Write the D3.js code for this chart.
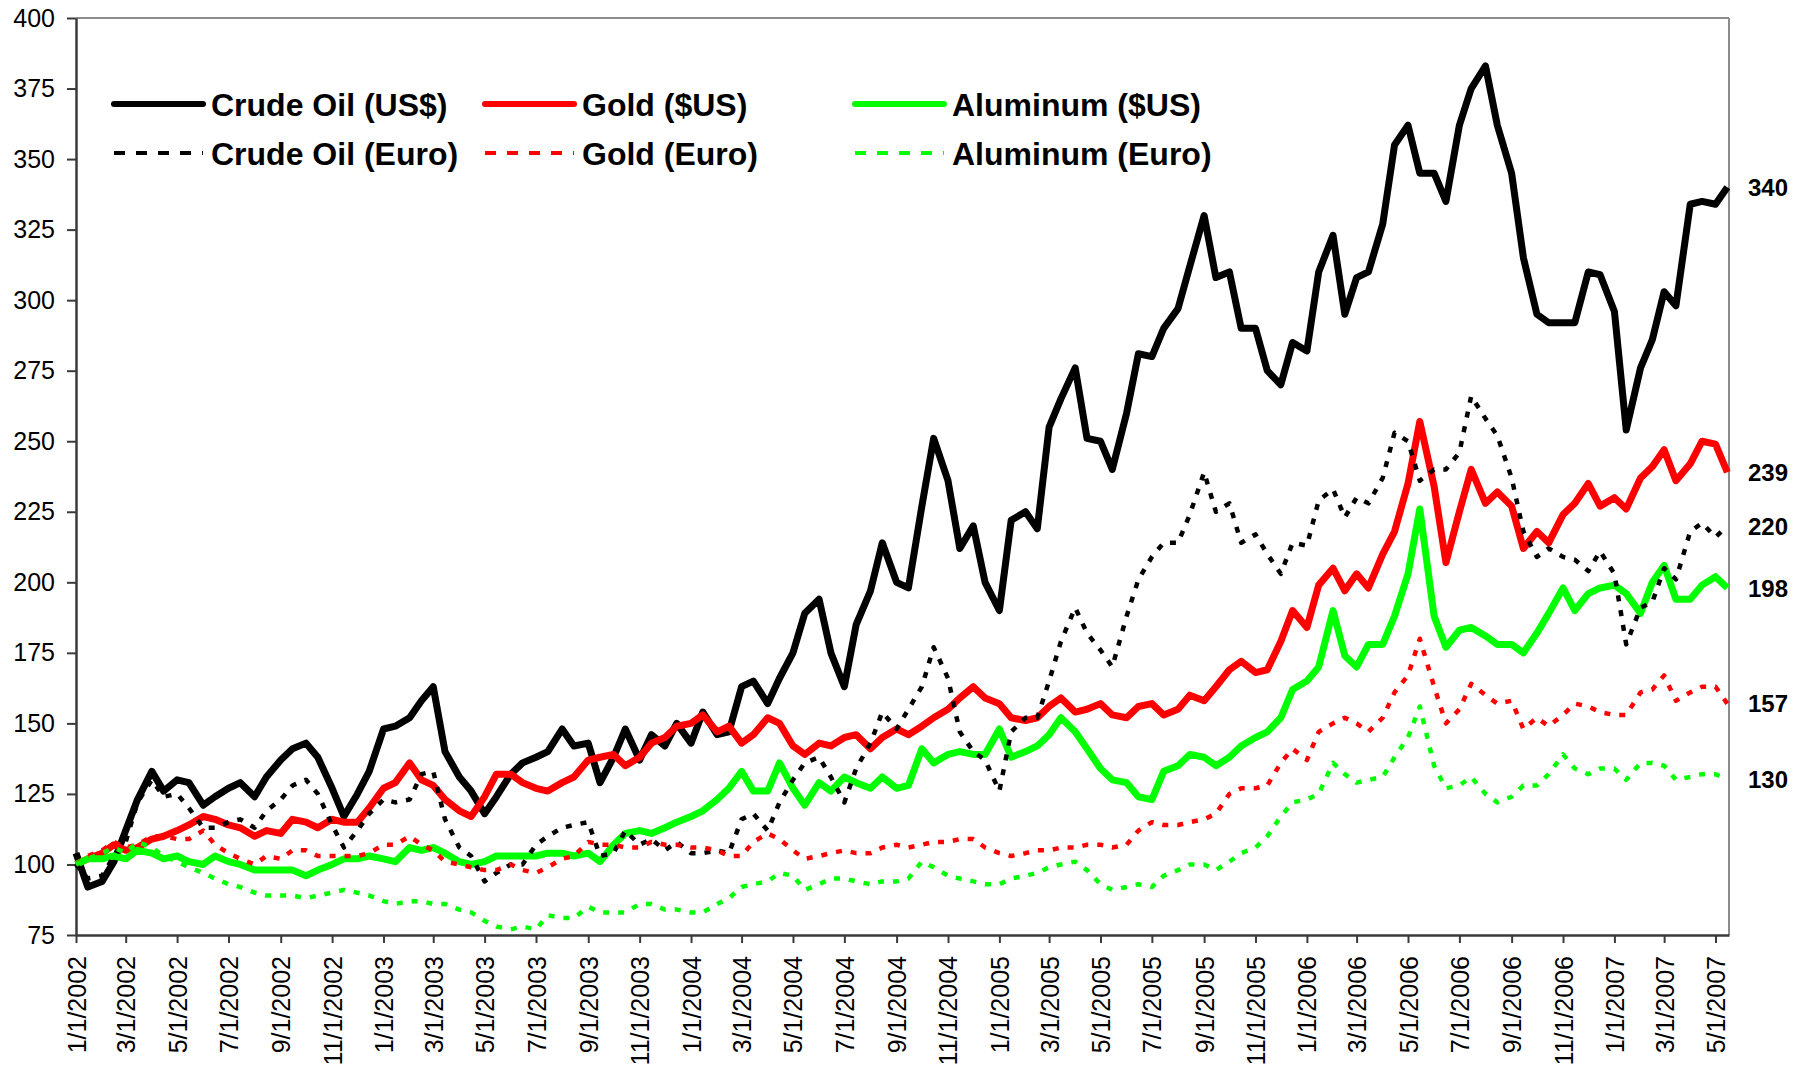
<!DOCTYPE html>
<html>
<head>
<meta charset="utf-8">
<script src="https://cdn.jsdelivr.net/npm/d3@7"></script>
<style>
  body { margin: 0; background: #fff; }
  svg text { font-family: "Liberation Sans", Arial, sans-serif; }
</style>
</head>
<body>
<svg id="chart" width="1805" height="1069"></svg>
<script>
// semi-monthly samples (1st and 15th), 1/1/2002 .. 5/15/2007
const lastDate = new Date(2007, 4, 15);
const dates = [];
for (let yr = 2002; yr <= 2007; yr++)
  for (let mo = 0; mo < 12; mo++)
    for (const d of [1, 15]) {
      const t = new Date(yr, mo, d);
      if (t <= lastDate) dates.push(t);
    }

// index values, 1/1/2002 = 100
const crudeUsd = [
  104, 92, 94, 101, 112, 123, 133, 126, 130, 129, 121, 124, 127, 129, 124, 131, 137, 141, 143, 138, 127, 117,
  125, 133, 148, 149, 152, 158, 163, 140, 131, 126, 118, 124, 132, 136, 138, 140, 148, 142, 143, 129, 138, 148,
  137, 146, 142, 150, 143, 154, 146, 147, 163, 165, 157, 166, 175, 189, 194, 175, 163, 185, 197, 214, 200,
  198, 227, 251, 236, 212, 220, 200, 190, 222, 225, 219, 255, 265, 276, 251, 250, 240, 260, 281, 280, 290, 297,
  312, 330, 308, 310, 290, 290, 275, 270, 285, 282, 310, 323, 295, 308, 310, 327, 355, 362, 345, 345, 335,
  362, 375, 383, 362, 345, 315, 295, 292, 292, 292, 310, 309, 296, 254, 276, 286, 303, 298, 334, 335, 334, 340
];
const goldUsd = [
  100, 102, 104, 107, 105, 106, 109, 110, 112, 114, 117, 116, 114, 113, 110, 112, 111, 116, 115, 113, 116, 115,
  115, 120, 127, 129, 136, 130, 128, 123, 119, 117, 124, 132, 132, 129, 127, 126, 129, 131, 137, 138, 139, 135,
  138, 143, 145, 149, 150, 153, 147, 149, 143, 146, 152, 150, 142, 139, 143, 142, 145, 146, 141, 145, 148,
  146, 149, 152, 155, 159, 163, 159, 157, 152, 151, 152, 156, 159, 154, 155, 157, 153, 152, 156, 157, 153, 155,
  160, 158, 163, 169, 172, 168, 169, 179, 190, 184, 199, 205, 197, 203, 198, 210, 218, 235, 257, 234, 207,
  225, 240, 228, 232, 227, 212, 218, 214, 224, 228, 235, 227, 230, 226, 237, 241, 247, 236, 242, 250, 249, 239
];
const aluminumUsd = [
  100, 102, 102, 103, 102, 105, 104, 102, 103, 101, 100, 103, 101, 100, 98, 98, 98, 98, 96, 98, 100, 102,
  102, 103, 102, 101, 106, 105, 106, 104, 101, 100, 101, 103, 103, 103, 103, 104, 104, 103, 104, 101, 107, 111,
  112, 111, 113, 115, 117, 119, 123, 127, 133, 126, 126, 136, 127, 121, 129, 126, 131, 129, 127, 131, 127,
  128, 141, 136, 139, 140, 139, 139, 148, 138, 140, 142, 146, 152, 147, 141, 134, 130, 129, 124, 123, 133, 135,
  139, 138, 135, 138, 142, 145, 147, 152, 162, 165, 170, 190, 174, 170, 178, 178, 188, 203, 226, 188, 177,
  183, 184, 181, 178, 178, 175, 182, 189, 198, 190, 196, 198, 199, 196, 189, 200, 206, 194, 194, 199, 202, 198
];
const crudeEuro = [
  100, 95, 96, 103, 108, 122, 130, 124, 125, 120, 113, 113, 115, 116, 113, 119, 123, 128, 130, 125, 114, 106,
  112, 118, 123, 122, 123, 132, 133, 116, 106, 103, 94, 97, 100, 100, 107, 110, 113, 114, 115, 103, 104, 112,
  107, 109, 105, 108, 104, 104, 105, 104, 116, 118, 112, 122, 130, 136, 138, 131, 122, 134, 143, 154, 148,
  155, 163, 177, 166, 147, 140, 137, 126, 147, 152, 152, 165, 179, 191, 182, 176, 170, 188, 201, 209, 214, 214,
  224, 239, 225, 228, 214, 217, 210, 203, 214, 213, 229, 233, 223, 230, 228, 237, 253, 250, 236, 240, 240,
  246, 266, 258, 252, 237, 218, 209, 212, 209, 208, 204, 211, 203, 178, 191, 193, 205, 201, 218, 221, 216, 220
];
const goldEuro = [
  100, 103, 105, 108, 106, 107, 110, 110, 109, 109, 112, 107, 104, 102, 100, 103, 102, 105, 105, 103, 103, 103,
  103, 104, 107, 107, 110, 107, 105, 101, 100, 99, 98, 98, 100, 98, 97, 99, 102, 103, 108, 107, 107, 106,
  106, 108, 107, 107, 106, 106, 105, 103, 103, 108, 111, 109, 105, 102, 103, 104, 105, 104, 104, 106, 107,
  106, 107, 108, 108, 109, 109, 106, 104, 103, 104, 105, 105, 106, 106, 107, 107, 106, 107, 112, 115, 114, 114,
  115, 116, 118, 125, 127, 127, 128, 136, 141, 137, 147, 150, 152, 150, 147, 152, 161, 167, 180, 163, 150,
  155, 164, 160, 157, 158, 148, 152, 149, 153, 157, 156, 154, 153, 153, 161, 162, 167, 158, 161, 163, 163, 157
];
const aluminumEuro = [
  100, 102, 104, 106, 104, 108, 106, 103, 101, 99, 97, 95, 93, 92, 90, 89, 89, 89, 88, 89, 90, 91,
  90, 89, 87, 86, 87, 87, 86, 86, 84, 83, 80, 78, 77, 78, 77, 82, 81, 81, 85, 83, 83, 83,
  86, 86, 84, 84, 83, 83, 86, 88, 92, 93, 94, 97, 96, 91, 93, 95, 95, 94, 93, 94, 94,
  95, 101, 99, 96, 95, 94, 93, 93, 95, 96, 97, 99, 100, 101, 98, 93, 91, 92, 93, 92, 96, 98,
  100, 100, 98, 101, 104, 106, 110, 117, 122, 123, 125, 136, 132, 129, 130, 131, 138, 145, 156, 135, 127,
  128, 131, 125, 122, 124, 128, 128, 132, 139, 134, 132, 134, 134, 130, 136, 136, 135, 130, 131, 132, 132, 130
];

const seriesNames = ["Crude Oil (US$)", "Gold ($US)", "Aluminum ($US)",
                     "Crude Oil (Euro)", "Gold (Euro)", "Aluminum (Euro)"];
const seriesColors = ["#000000", "#ff0000", "#00ff00", "#000000", "#ff0000", "#00ff00"];
const seriesValues = [crudeUsd, goldUsd, aluminumUsd, crudeEuro, goldEuro, aluminumEuro];
const endLabels = [340, 239, 220, 198, 157, 130];
const yTicks = [75, 100, 125, 150, 175, 200, 225, 250, 275, 300, 325, 350, 375, 400];

const svg = d3.select("#chart");
const plotL = 76, plotR = 1729, plotT = 18, plotB = 935;

const x = d3.scaleTime()
  .domain([new Date(2002, 0, 1), new Date(2007, 4, 17)])
  .range([plotL, plotR]);
const y = d3.scaleLinear().domain([75, 400]).range([plotB, plotT]);

const tickDates = d3.timeMonth.every(2).range(new Date(2002, 0, 1), new Date(2007, 4, 2));
const fmt = (d) => `${d.getMonth() + 1}/${d.getDate()}/${d.getFullYear()}`;

// frame
svg.append("line").attr("x1", plotL).attr("x2", plotR).attr("y1", plotT).attr("y2", plotT)
  .attr("stroke", "#8c8c8c").attr("stroke-width", 2);
svg.append("line").attr("x1", plotR).attr("x2", plotR).attr("y1", plotT).attr("y2", plotB)
  .attr("stroke", "#8c8c8c").attr("stroke-width", 2);

// axes
const yAxis = svg.append("g")
  .attr("transform", `translate(${plotL},0)`)
  .call(d3.axisLeft(y).tickValues(yTicks).tickSizeInner(9).tickSizeOuter(0).tickPadding(12));
const xAxis = svg.append("g")
  .attr("transform", `translate(0,${plotB})`)
  .call(d3.axisBottom(x).tickValues(tickDates).tickFormat(fmt).tickSizeInner(8).tickSizeOuter(0));

[yAxis, xAxis].forEach((g) => {
  g.select(".domain").attr("stroke", "#3a3a3a").attr("stroke-width", 2.5);
  g.selectAll(".tick line").attr("stroke", "#3a3a3a").attr("stroke-width", 2);
  g.selectAll("text").attr("fill", "#000").style("font-size", "25px")
    .style("font-family", '"Liberation Sans", Arial, sans-serif');
});
xAxis.selectAll(".tick text")
  .attr("transform", "rotate(-90)")
  .attr("text-anchor", "end")
  .attr("x", -21)
  .attr("y", 0)
  .attr("dy", "0.36em");

// series
const line = d3.line()
  .x((d, i) => x(dates[i]))
  .y((d) => y(d))
  .curve(d3.curveLinear);

seriesValues.forEach((vals, s) => {
  const dashed = s >= 3;
  svg.append("path")
    .datum(vals)
    .attr("d", line)
    .attr("fill", "none")
    .attr("stroke", seriesColors[s])
    .attr("stroke-width", dashed ? 4.5 : 7)
    .attr("stroke-linejoin", "round")
    .attr("stroke-dasharray", dashed ? "6,9" : null);
});

// end-value labels
endLabels.forEach((v) => {
  svg.append("text")
    .attr("x", 1748)
    .attr("y", y(v))
    .attr("dy", "0.36em")
    .style("font-size", "24px")
    .style("font-weight", "bold")
    .text(v);
});

// legend
const legCols = [114, 485, 855];
const legRows = [104, 153];
seriesNames.forEach((name, s) => {
  const cx = legCols[s % 3], cy = legRows[Math.floor(s / 3)];
  const dashed = s >= 3;
  svg.append("line")
    .attr("x1", cx).attr("x2", cx + 89).attr("y1", cy).attr("y2", cy)
    .attr("stroke", seriesColors[s])
    .attr("stroke-width", dashed ? 4 : 6)
    .attr("stroke-linecap", dashed ? "butt" : "round")
    .attr("stroke-dasharray", dashed ? "11,11" : null);
  svg.append("text")
    .attr("x", cx + 97)
    .attr("y", cy)
    .attr("dy", "0.36em")
    .style("font-size", "32px")
    .style("font-weight", "bold")
    .text(name);
});
</script>
</body>
</html>
